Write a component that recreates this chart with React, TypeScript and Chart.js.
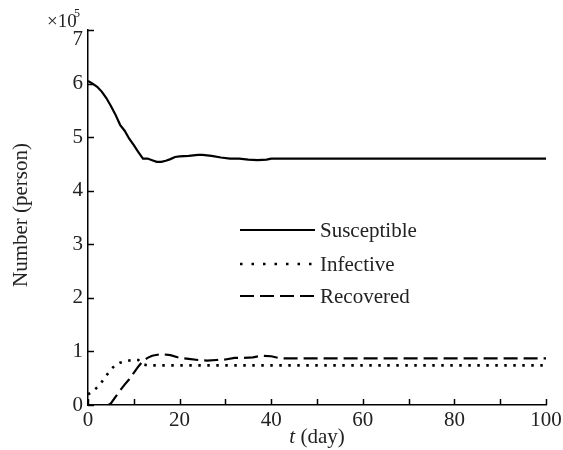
import React, { useEffect, useRef } from "react";
import { Chart, registerables } from "chart.js";

Chart.register(...registerables);

const sT = [0, 1, 2, 3, 4, 5, 6, 7, 8, 9, 10, 11, 12, 13, 14, 15, 16, 17, 18, 19, 20, 22, 24, 25, 27, 29, 31, 33, 35, 37, 39, 40, 100];
const susceptible = [6.05, 6.0, 5.94, 5.85, 5.73, 5.58, 5.42, 5.23, 5.12, 4.97, 4.85, 4.72, 4.6, 4.6, 4.57, 4.54, 4.54, 4.56, 4.59, 4.63, 4.64, 4.65, 4.67, 4.67, 4.65, 4.62, 4.6, 4.6, 4.58, 4.57, 4.58, 4.6, 4.6];

const iT = [0, 1, 2, 3, 4, 5, 6, 7, 8, 9, 10, 11, 12, 13, 100];
const infective = [0.2, 0.25, 0.33, 0.43, 0.55, 0.66, 0.75, 0.79, 0.81, 0.83, 0.84, 0.84, 0.76, 0.74, 0.74];

const rT = [0, 4.5, 5, 6, 7, 8, 9, 10, 11, 12, 13, 14, 16, 18, 20, 22, 24, 26, 28, 30, 32, 34, 36, 38, 40, 42, 100];
const recovered = [0, 0, 0.03, 0.15, 0.27, 0.38, 0.48, 0.6, 0.72, 0.82, 0.88, 0.92, 0.95, 0.93, 0.88, 0.86, 0.84, 0.83, 0.84, 0.85, 0.88, 0.88, 0.89, 0.92, 0.91, 0.87, 0.87];

const seriesNames = ["Susceptible", "Infective", "Recovered"];
const xTickValues = [0, 10, 20, 30, 40, 50, 60, 70, 80, 90, 100];
const yTickValues = [0, 1, 2, 3, 4, 5, 6, 7];
const yMax = 7;

const FONT = "Liberation Serif";

const pts = (t: number[], v: number[]) => t.map((x, i) => ({ x, y: v[i] }));

const decorPlugin = {
  id: "decor",
  afterDraw(chart: any) {
    const ctx = chart.ctx;
    const xs = chart.scales.x;
    const ys = chart.scales.y;
    const ca = chart.chartArea;
    ctx.save();
    ctx.strokeStyle = "#000";
    ctx.lineWidth = 1.5;
    // inward ticks
    xTickValues.forEach((v) => {
      const px = Math.round(xs.getPixelForValue(v)) + 0.5;
      ctx.beginPath();
      ctx.moveTo(px, ca.bottom);
      ctx.lineTo(px, ca.bottom - 6);
      ctx.stroke();
    });
    yTickValues.forEach((v) => {
      const py = Math.round(ys.getPixelForValue(v)) + 0.5;
      ctx.beginPath();
      ctx.moveTo(ca.left, py);
      ctx.lineTo(ca.left + 6, py);
      ctx.stroke();
    });
    // top tick label (shifted down, below the exponent)
    ctx.fillStyle = "#222";
    ctx.font = `21px "${FONT}"`;
    ctx.textAlign = "right";
    ctx.textBaseline = "middle";
    ctx.fillText(String(yMax), ca.left - 5, ys.getPixelForValue(yMax) + 9);
    // exponent label
    ctx.textBaseline = "alphabetic";
    ctx.textAlign = "left";
    ctx.font = `19px "${FONT}"`;
    ctx.fillText("\u00d710", 47, 27);
    ctx.font = `12px "${FONT}"`;
    ctx.fillText("5", 74, 17);
    // x title with italic t
    ctx.font = `italic 21px "${FONT}"`;
    const tW = ctx.measureText("t").width;
    ctx.font = `21px "${FONT}"`;
    const restW = ctx.measureText(" (day)").width;
    const cx = (ca.left + ca.right) / 2;
    const startX = cx - (tW + restW) / 2;
    ctx.font = `italic 21px "${FONT}"`;
    ctx.fillText("t", startX, 443);
    ctx.font = `21px "${FONT}"`;
    ctx.fillText(" (day)", startX + tW, 443);
    // y title
    ctx.save();
    ctx.translate(27, 215);
    ctx.rotate(-Math.PI / 2);
    ctx.textAlign = "center";
    ctx.font = `21px "${FONT}"`;
    ctx.fillText("Number (person)", 0, 0);
    ctx.restore();
    // legend
    const lx0 = 240, lx1 = 315, ty = [230, 264, 296];
    chart.data.datasets.forEach((ds: any, i: number) => {
      ctx.save();
      ctx.strokeStyle = ds.borderColor;
      ctx.lineWidth = ds.borderWidth;
      ctx.setLineDash(i === 1 ? [2.5, 9] : ds.borderDash || []);
      ctx.beginPath();
      ctx.moveTo(lx0, ty[i]);
      ctx.lineTo(lx1, ty[i]);
      ctx.stroke();
      ctx.restore();
      ctx.font = `21px "${FONT}"`;
      ctx.textBaseline = "middle";
      ctx.fillStyle = "#222";
      ctx.fillText(ds.label, 320, ty[i] + 1);
    });
    ctx.restore();
  },
};

export default function App() {
  const ref = useRef<HTMLCanvasElement>(null);
  useEffect(() => {
    if (!ref.current) return;
    const chart = new Chart(ref.current, {
      type: "line",
      data: {
        datasets: [
          {
            label: seriesNames[0],
            data: pts(sT, susceptible),
            borderColor: "#000",
            borderWidth: 2.2,
            pointRadius: 0,
            tension: 0,
          },
          {
            label: seriesNames[1],
            data: pts(iT, infective),
            borderColor: "#000",
            borderWidth: 2.6,
            borderDash: [2.5, 6.5],
            pointRadius: 0,
            tension: 0,
          },
          {
            label: seriesNames[2],
            data: pts(rT, recovered),
            borderColor: "#000",
            borderWidth: 2.2,
            borderDash: [14, 6],
            pointRadius: 0,
            tension: 0,
          },
        ],
      },
      options: {
        animation: false,
        responsive: false,
        layout: { padding: { top: 30, right: 17, left: 0, bottom: 0 } },
        plugins: { legend: { display: false }, tooltip: { enabled: false } },
        scales: {
          x: {
            type: "linear",
            min: 0,
            max: 100,
            afterFit: (s: any) => { s.height = 45; s.paddingRight = 0; s.paddingLeft = 0; },
            afterBuildTicks: (s: any) => { s.ticks = xTickValues.map((v) => ({ value: v })); },
            grid: { display: false, drawTicks: false },
            border: { display: true, color: "#000", width: 1.5 },
            ticks: {
              padding: 3,
              color: "#222",
              font: { family: FONT, size: 21 },
              maxRotation: 0,
              autoSkip: false,
              callback: (v: any) => (Number(v) % 20 === 0 ? String(v) : ""),
            },
          },
          y: {
            type: "linear",
            min: 0,
            max: yMax,
            afterFit: (s: any) => { s.width = 88; s.paddingTop = 0; s.paddingBottom = 0; },
            afterBuildTicks: (s: any) => { s.ticks = yTickValues.map((v) => ({ value: v })); },
            grid: { display: false, drawTicks: false },
            border: { display: true, color: "#000", width: 1.5 },
            ticks: {
              padding: 5,
              color: "#222",
              font: { family: FONT, size: 21 },
              autoSkip: false,
              callback: (v: any) => (Number(v) === yMax ? "" : String(v)),
            },
          },
        },
      },
      plugins: [decorPlugin],
    } as any);
    return () => chart.destroy();
  }, []);
  return (
    <div style={{ position: "fixed", left: 0, top: 0, width: 563, height: 450, background: "#fff" }}>
      <canvas ref={ref} width={563} height={450} />
    </div>
  );
}
